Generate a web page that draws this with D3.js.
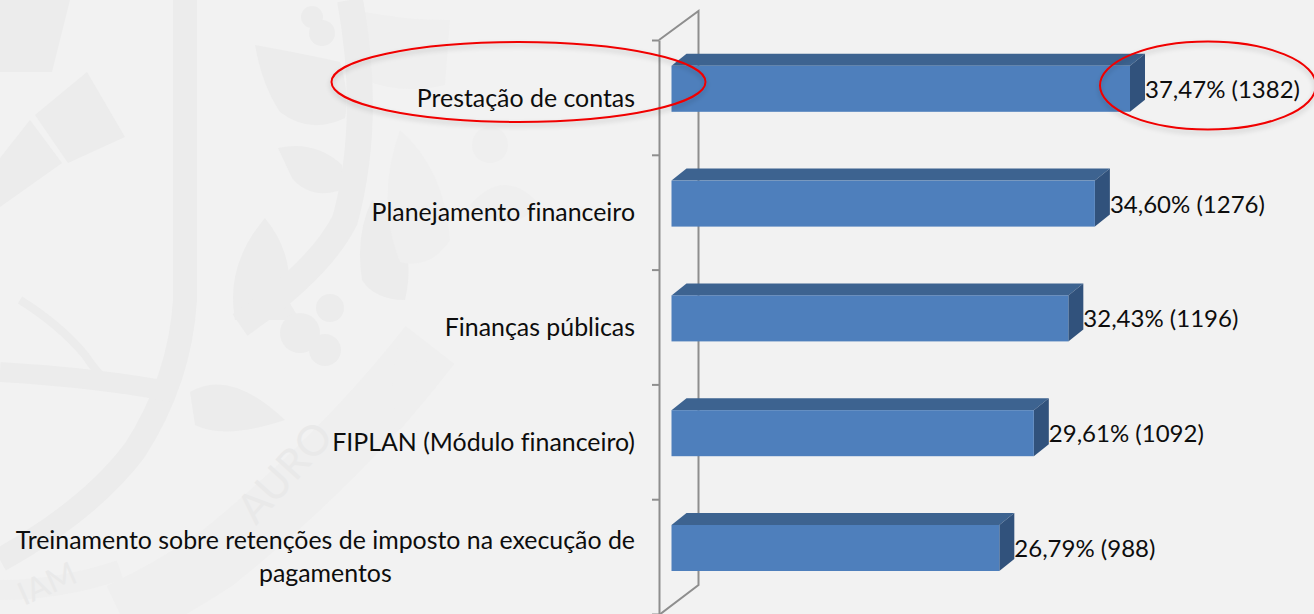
<!DOCTYPE html>
<html>
<head>
<meta charset="utf-8">
<script src="https://cdn.jsdelivr.net/npm/d3@7"></script>
<style>
  html, body { margin: 0; padding: 0; background: #f2f2f2; overflow: hidden; }
  text { font-family: Lato, "Open Sans", sans-serif; fill: #0d0d0d; font-variant-ligatures: none; }
</style>
</head>
<body>
<div id="chart"></div>
<script>
const categories = [
    'Prestação de contas',
    'Planejamento financeiro',
    'Finanças públicas',
    'FIPLAN (Módulo financeiro)',
    'Treinamento sobre retenções de imposto na execução de pagamentos'
];
const percents = [37.47, 34.60, 32.43, 29.61, 26.79];
const counts = [1382, 1276, 1196, 1092, 988];
const percentLabels = ['37,47%', '34,60%', '32,43%', '29,61%', '26,79%'];

const rows = categories.map((name, i) => ({
    name,
    percent: percents[i],
    label: `${percentLabels[i]} (${counts[i]})`
}));

const svgWidth = 1314;
const svgHeight = 614;
const categoryFont = 24.9;
const valueFont = 24;

const svg = d3.select('#chart')
    .append('svg')
    .attr('width', svgWidth)
    .attr('height', svgHeight)
    .style('display', 'block');

// drop shadow for the two hand drawn ellipses
const shadow = svg.append('defs').append('filter')
    .attr('id', 'ringShadow')
    .attr('x', '-10%').attr('y', '-20%')
    .attr('width', '120%').attr('height', '150%');
shadow.append('feDropShadow')
    .attr('dx', 0).attr('dy', 3)
    .attr('stdDeviation', 2.5)
    .attr('flood-color', '#000')
    .attr('flood-opacity', 0.2);

svg.append('rect')
    .attr('width', svgWidth)
    .attr('height', svgHeight)
    .attr('fill', '#f2f2f2');

// faint seal in the background
const mark = svg.append('g').attr('class', 'watermark');
const markFill = '#ececec';
const markPale = '#efefef';

const ring = [
    { d: 'M430,345 Q340,460 215,560 Q170,590 120,614', w: 62 },
    { d: 'M0,590 Q60,590 120,570', w: 20 }
];
mark.selectAll('path.ring')
    .data(ring)
    .join('path')
    .attr('class', 'ring')
    .attr('d', d => d.d)
    .attr('fill', 'none')
    .attr('stroke', markPale)
    .attr('stroke-width', d => d.w);

const blobs = [
    'M0,0 L70,0 L52,72 L0,72 Z',
    'M35,115 L87,72 L125,137 L68,163 Z',
    'M30,120 L62,163 L0,207 L0,158 Z',
    'M255,45 Q310,55 340,62 Q350,95 345,118 Q310,135 280,112 Q262,85 255,45 Z',
    'M278,148 Q315,140 342,165 L342,190 Q310,200 292,178 Z',
    'M265,218 Q295,255 288,300 L300,320 L235,320 Q225,265 265,218 Z',
    'M190,392 Q230,368 285,420 Q225,440 195,425 Z',
    'M372,200 Q420,235 405,300 Q375,300 362,280 Q355,235 372,200 Z'
];
mark.selectAll('path.blob')
    .data(blobs)
    .join('path')
    .attr('class', 'blob')
    .attr('d', d => d)
    .attr('fill', markFill);

const paleBlobs = [
    'M400,130 Q445,170 450,240 Q430,270 400,262 Q375,200 400,130 Z',
    'M470,205 Q505,165 540,205 Q505,240 470,205 Z',
    'M400,340 L436,387 L400,430 Q385,385 400,340 Z',
    'M355,10 Q400,20 450,20 L445,85 Q400,95 365,80 Z'
];
mark.selectAll('path.pale')
    .data(paleBlobs)
    .join('path')
    .attr('class', 'pale')
    .attr('d', d => d)
    .attr('fill', markPale);

const strokes = [
    { d: 'M185,0 L185,300 Q180,380 135,450 Q90,510 0,560', w: 24 },
    { d: 'M0,372 Q100,378 172,392', w: 20 },
    { d: 'M20,300 Q60,325 85,355 Q95,370 105,380', w: 8 },
    { d: 'M350,0 Q372,120 345,220 Q320,270 240,325', w: 26 }
];
mark.selectAll('path.stem')
    .data(strokes)
    .join('path')
    .attr('class', 'stem')
    .attr('d', d => d.d)
    .attr('fill', 'none')
    .attr('stroke', markFill)
    .attr('stroke-width', d => d.w);

mark.selectAll('circle')
    .data([[312, 17, 11], [322, 33, 13], [300, 333, 20], [325, 350, 16], [330, 308, 14]])
    .join('circle')
    .attr('cx', d => d[0])
    .attr('cy', d => d[1])
    .attr('r', d => d[2])
    .attr('fill', markFill);
mark.append('circle')
    .attr('cx', 490).attr('cy', 145).attr('r', 18)
    .attr('fill', markPale);

mark.append('text')
    .attr('transform', 'translate(256,526) rotate(-48)')
    .style('font-size', '42px')
    .style('fill', '#e9e9e9')
    .text('AURO');
mark.append('text')
    .attr('transform', 'translate(24,606) rotate(-24)')
    .style('font-size', '32px')
    .style('fill', '#e9e9e9')
    .text('IAM');

// front plane of the 3d chart, and how far the back wall is pushed
const frontX = 659;
const axisTop = 40;
const axisBottom = 614;
const wallDx = 39.5;
const wallDy = -29;

// bar depth
const depthX = 15;
const depthY = -12;

const xScale = d3.scaleLinear()
    .domain([0, 37.47])
    .range([671.5, 1130]);

const yScale = d3.scaleBand()
    .domain(categories)
    .range([axisTop, axisBottom])
    .paddingInner(0.6)
    .paddingOuter(0.3);

const tickScale = d3.scaleLinear()
    .domain([0, categories.length])
    .range([axisTop, axisBottom]);

// bars sit higher than the band centre because of the 3d rotation
const barShift = -8.6;
const barHeight = 46;
const bandMiddle = d => yScale(d.name) + yScale.bandwidth() / 2;
const barTop = d => bandMiddle(d) - barHeight / 2 + barShift;

svg.append('path')
    .attr('d', `M${frontX},${axisTop} L${frontX + wallDx},${axisTop + wallDy} L${frontX + wallDx},${axisBottom + wallDy} L${frontX},${axisBottom + 1}`)
    .attr('fill', 'none')
    .attr('stroke', '#8e8e8e')
    .attr('stroke-width', 2);

const axis = svg.append('g')
    .attr('transform', `translate(${frontX}, 0)`)
    .call(d3.axisLeft(tickScale)
        .tickValues(d3.range(categories.length + 1))
        .tickSize(7)
        .tickSizeOuter(0)
        .tickFormat(''));
axis.selectAll('path, line')
    .attr('stroke', '#8e8e8e')
    .attr('stroke-width', 2);

const bars = svg.selectAll('g.bar')
    .data(rows)
    .join('g')
    .attr('class', 'bar');

bars.append('path')
    .attr('d', d => {
        const x0 = xScale(0), x1 = xScale(d.percent), t = barTop(d);
        return `M${x0},${t} L${x0 + depthX},${t + depthY} L${x1 + depthX},${t + depthY} L${x1},${t} Z`;
    })
    .attr('fill', '#3d6390');

bars.append('path')
    .attr('d', d => {
        const x1 = xScale(d.percent), t = barTop(d);
        return `M${x1},${t} L${x1 + depthX},${t + depthY} L${x1 + depthX},${t + depthY + barHeight} L${x1},${t + barHeight} Z`;
    })
    .attr('fill', '#31527c');

bars.append('rect')
    .attr('x', xScale(0))
    .attr('y', barTop)
    .attr('width', d => xScale(d.percent) - xScale(0))
    .attr('height', barHeight)
    .attr('fill', '#4e7fbc');

bars.append('text')
    .attr('x', d => xScale(d.percent) + depthX)
    .attr('y', d => barTop(d) + barHeight / 2 + 9)
    .style('font-size', `${valueFont}px`)
    .text(d => d.label);

// category labels, wrapped when too wide for the left side
const labelRight = 635;
const labelWidth = 630;
const lineGap = 33;

const labels = svg.selectAll('text.category')
    .data(rows)
    .join('text')
    .attr('class', 'category')
    .style('font-size', `${categoryFont}px`);

labels.each(function (d) {
    const node = d3.select(this);
    const probe = node.append('tspan');
    const measure = t => probe.text(t).node().getComputedTextLength();

    const lines = [];
    let line = [];
    d.name.split(' ').forEach(word => {
        if (measure([...line, word].join(' ')) > labelWidth && line.length) {
            lines.push(line.join(' '));
            line = [word];
        } else {
            line.push(word);
        }
    });
    lines.push(line.join(' '));

    const firstWidth = measure(lines[0]);
    probe.remove();

    // a wrapped label is centred on its first line, which ends at labelRight
    const multi = lines.length > 1;
    const firstBase = bandMiddle(d) + 9.2 - (lines.length - 1) * lineGap / 2;
    node.attr('text-anchor', multi ? 'middle' : 'end');
    lines.forEach((text, i) => {
        node.append('tspan')
            .attr('x', multi ? labelRight - firstWidth / 2 : labelRight)
            .attr('y', firstBase + i * lineGap)
            .text(text);
    });
});

// red ellipses the author drew over the top row
svg.selectAll('ellipse')
    .data([[518.5, 82, 187, 40], [1208, 85.5, 108, 44]])
    .join('ellipse')
    .attr('cx', d => d[0])
    .attr('cy', d => d[1])
    .attr('rx', d => d[2])
    .attr('ry', d => d[3])
    .attr('fill', 'none')
    .attr('stroke', '#f00000')
    .attr('stroke-width', 2)
    .attr('filter', 'url(#ringShadow)');
</script>
</body>
</html>
